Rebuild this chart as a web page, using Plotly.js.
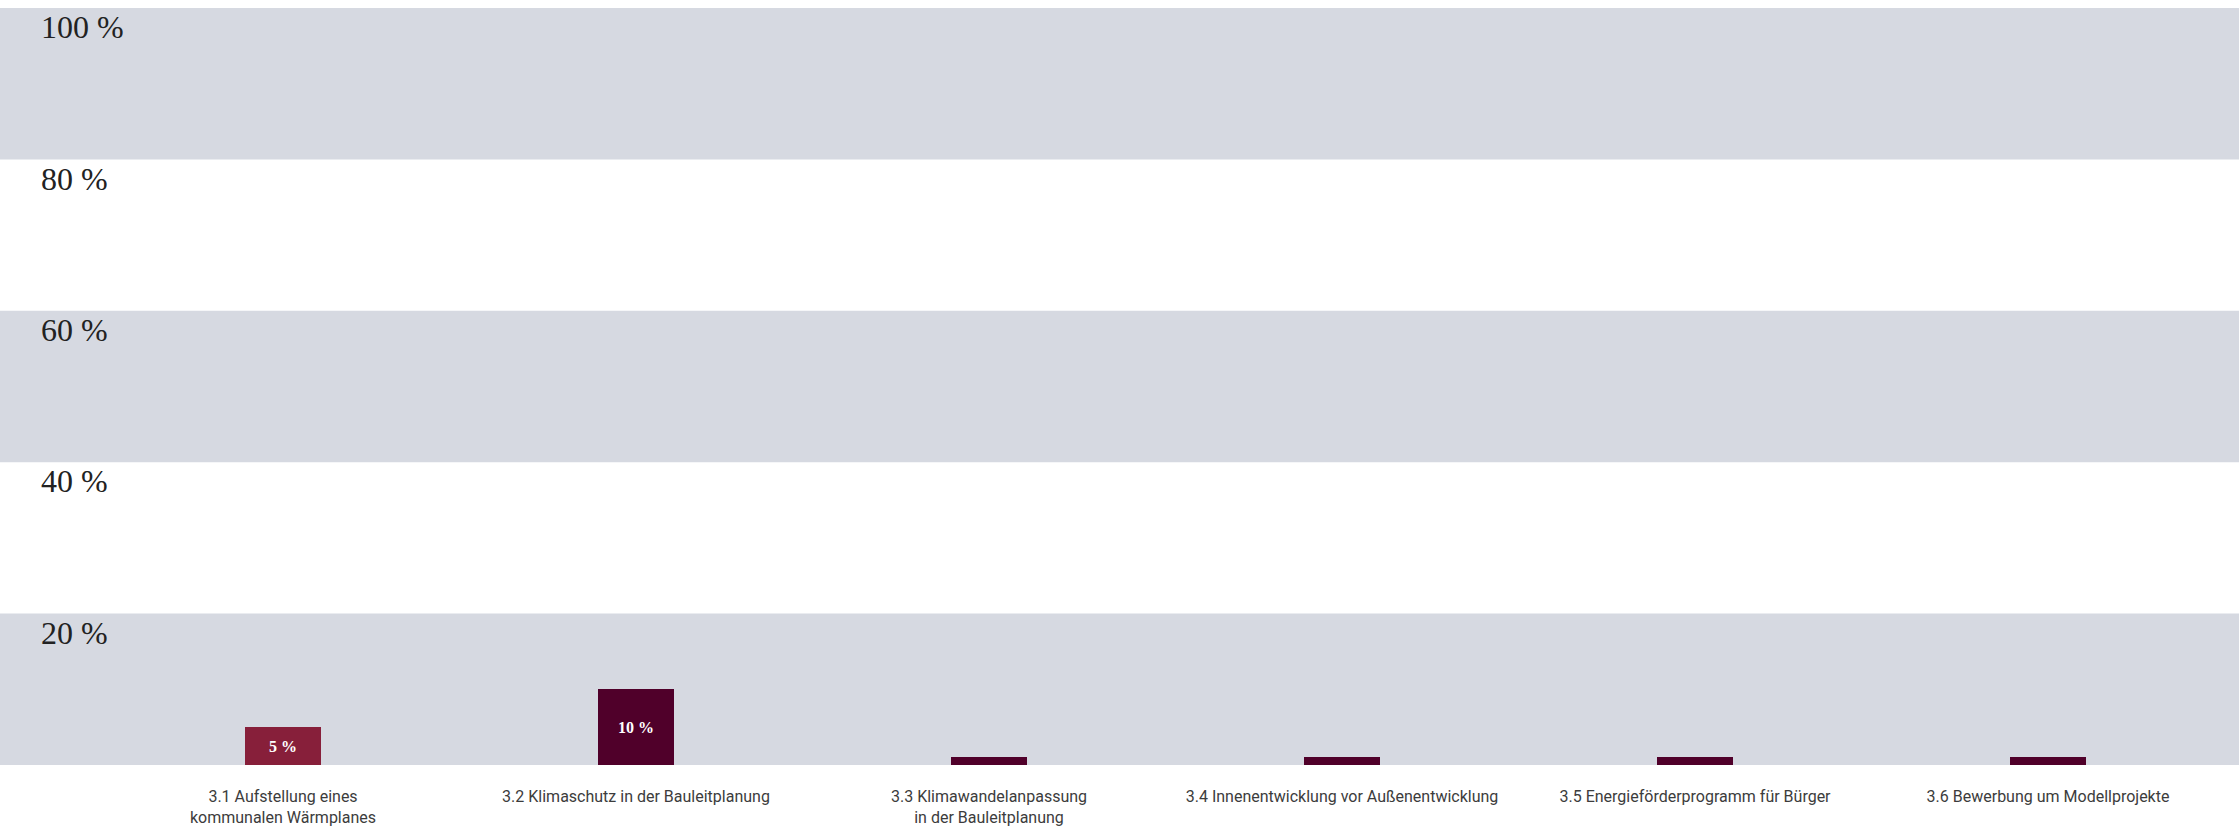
<!DOCTYPE html>
<html>
<head>
<meta charset="utf-8">
<script src="https://cdn.plot.ly/plotly-3.0.1.min.js"></script>
<style>html,body{margin:0;padding:0;background:#fff;}#chart{width:2239px;height:827px;}</style>
</head>
<body>
<div id="chart"></div>
<script>
var categories = [
  "3.1 Aufstellung eines<br>kommunalen Wärmplanes",
  "3.2 Klimaschutz in der Bauleitplanung",
  "3.3 Klimawandelanpassung<br>in der Bauleitplanung",
  "3.4 Innenentwicklung vor Außenentwicklung",
  "3.5 Energieförderprogramm für Bürger",
  "3.6 Bewerbung um Modellprojekte"
];
var values = [5, 10, 1, 1, 1, 1];
var barColors = ["#871f3a", "#50002a", "#50002a", "#50002a", "#50002a", "#50002a"];
var yTickValues = [0, 20, 40, 60, 80, 100];
var yTickLabels = ["", "20 %", "40 %", "60 %", "80 %", "100 %"];

var labels = values.map(function (v) { return v >= 3 ? v + " %" : ""; });

var bandColor = "#d6d9e1";
var shapes = [];
for (var i = 0; i + 1 < yTickValues.length; i += 2) {
  shapes.push({
    type: "rect", xref: "paper", yref: "y", layer: "below",
    x0: 0, x1: 1, y0: yTickValues[i], y1: yTickValues[i + 1],
    fillcolor: bandColor, line: { width: 0 }
  });
}

var trace = {
  type: "bar",
  x: categories,
  y: values,
  width: 0.2153,
  marker: { color: barColors, line: { width: 0 } },
  text: labels,
  textposition: "inside",
  insidetextanchor: "middle",
  textangle: 0,
  constraintext: "none",
  textfont: { family: "Liberation Serif, DejaVu Serif, serif", size: 16, color: "#ffffff", weight: 700 },
  hoverinfo: "none"
};

var layout = {
  width: 2239,
  height: 827,
  margin: { l: 0, r: 0, t: 8, b: 62 },
  paper_bgcolor: "#ffffff",
  plot_bgcolor: "#ffffff",
  showlegend: false,
  shapes: shapes,
  bargap: 0,
  xaxis: {
    type: "category",
    range: [-0.8017, 5.541],
    showgrid: false, zeroline: false, showline: false,
    ticks: "",
    tickfont: { family: "Roboto, sans-serif", size: 16, color: "#3c3c3c" },
    ticklabelstandoff: 20,
    fixedrange: true
  },
  yaxis: {
    range: [0, 100],
    tickmode: "array",
    tickvals: yTickValues,
    ticktext: yTickLabels,
    showgrid: false, zeroline: false, showline: false,
    ticks: "",
    ticklabelposition: "inside",
    ticklabelstandoff: 38,
    ticklabelshift: 19,
    tickfont: { family: "Liberation Serif, DejaVu Serif, serif", size: 32, color: "#222222" },
    fixedrange: true
  },
  hovermode: false
};

Plotly.newPlot("chart", [trace], layout, { displayModeBar: false, staticPlot: true });
</script>
</body>
</html>
